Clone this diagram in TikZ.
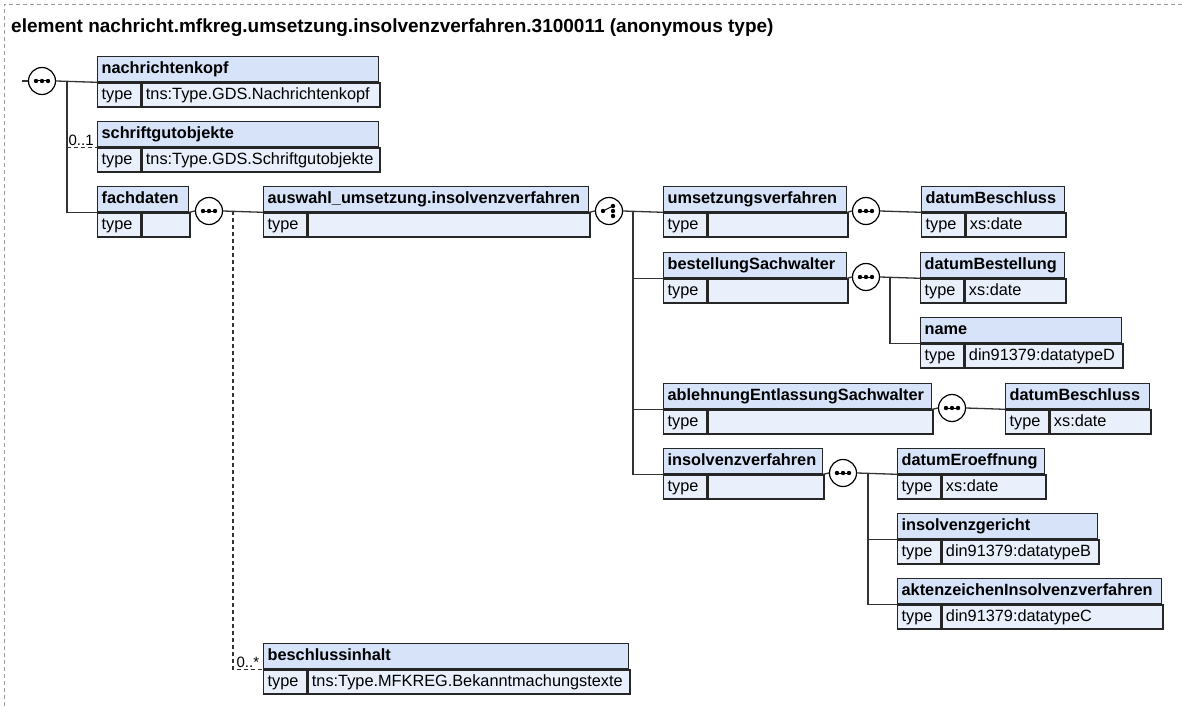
\documentclass[tikz,border=0pt]{standalone}
\usepackage{fontspec}
\setmainfont{Liberation Sans}
\usetikzlibrary{positioning,calc}
\definecolor{HeadBlue}{HTML}{D6E3F8}
\definecolor{RowBlue}{HTML}{E9F0FB}
\definecolor{LineGray}{HTML}{333333}
\definecolor{FrameGray}{HTML}{9A9A9A}
\tikzset{
  head/.style={draw=black!85, fill=HeadBlue, line width=1.3pt, anchor=north west, minimum height=25pt,
    inner xsep=4pt, inner ysep=0pt, text height=11.7pt, text depth=3.4pt, align=left,
    font=\fontsize{16.3}{19}\selectfont\bfseries},
  cell/.style={draw=black!85, fill=RowBlue, line width=1.3pt, anchor=north west, minimum height=24pt,
    inner xsep=4pt, inner ysep=0pt, text height=11.7pt, text depth=3.4pt, align=left,
    font=\fontsize{16.3}{19}\selectfont},
  compositor/.style={circle, draw=black, fill=white, line width=1.2pt, minimum size=27pt, inner sep=0pt},
  link/.style={draw=LineGray, line width=1.3pt},
  optlink/.style={link, dash pattern=on 4pt off 3pt},
  occurs/.style={font=\fontsize{15}{17}\selectfont, inner sep=1pt, anchor=south west, text=black},
  frame/.style={draw=FrameGray, line width=0.8pt, dash pattern=on 4pt off 3pt},
}
% element box: name, left, top, right, title, type
\newcommand{\elem}[6]{%
  \pgfmathsetmacro{\hw}{#4-#2-8}%
  \pgfmathsetmacro{\vw}{#4-#2-43-8}%
  \node[head, text width=\hw pt] (#1) at (#2,#3) {#5};%
  \node[cell, text width=35pt] (#1-k) at (#1.south west) {type};%
  \node[cell, text width=\vw pt] (#1-t) at (#1-k.north east) {#6};%
}
% sequence symbol
\newcommand{\seqsym}[3]{%
  \node[compositor] (#1) at (#2,#3) {};%
  \draw[line width=1pt] ([xshift=-6pt]#1.center) -- ([xshift=6pt]#1.center);%
  \foreach \dx in {-6,0,6} {\fill ([xshift=\dx pt]#1.center) circle (2.2pt);}%
}
% choice symbol
\newcommand{\choicesym}[3]{%
  \node[compositor] (#1) at (#2,#3) {};%
  \draw[line width=1pt] ([xshift=-6pt]#1.center) -- ([shift={(4pt,5pt)}]#1.center);%
  \fill ([xshift=-6pt]#1.center) circle (2.2pt);%
  \foreach \dy in {-5,0,5} {\fill ([shift={(4pt,\dy pt)}]#1.center) circle (2.2pt);}%
}

\begin{document}
\begin{tikzpicture}[x=1pt, y=-1pt]

  \useasboundingbox (0,0) rectangle (1183,706);
  \draw[frame] (4,706) -- (4,4) -- (1183,4);

  \node[anchor=base west, inner sep=0pt, font=\fontsize{19}{22}\selectfont\bfseries] (title) at (11,33)
    {element nachricht.mfkreg.umsetzung.insolvenzverfahren.3100011 (anonymous type)};

  % --- boxes ---------------------------------------------------------------
  \elem{nachrichtenkopf}{97}{56}{378}{nachrichtenkopf}{tns:Type.GDS.Nachrichtenkopf}
  \elem{schriftgut}{97}{121}{378}{schriftgutobjekte}{tns:Type.GDS.Schriftgutobjekte}
  \elem{fachdaten}{97}{186}{188}{fachdaten}{}
  \elem{auswahl}{263}{186}{588}{auswahl\_umsetzung.insolvenzverfahren}{}
  \elem{umsetzung}{663}{186}{846}{umsetzungsverfahren}{}
  \elem{beschlussA}{921}{186}{1064}{datumBeschluss}{xs:date}
  \elem{bestellung}{663}{252}{846}{bestellungSachwalter}{}
  \elem{bestellDatum}{920}{252}{1064}{datumBestellung}{xs:date}
  \elem{nameD}{920}{317}{1121}{name}{din91379:datatypeD}
  \elem{ablehnung}{663}{383}{931}{ablehnungEntlassungSachwalter}{}
  \elem{beschlussB}{1005}{383}{1149}{datumBeschluss}{xs:date}
  \elem{insolvenz}{663}{448}{822}{insolvenzverfahren}{}
  \elem{eroeffnung}{897}{448}{1044}{datumEroeffnung}{xs:date}
  \elem{gericht}{897}{513}{1097}{insolvenzgericht}{din91379:datatypeB}
  \elem{aktenzeichen}{897}{578}{1161}{aktenzeichenInsolvenzverfahren}{din91379:datatypeC}
  \elem{beschluss}{263}{643}{628}{beschlussinhalt}{tns:Type.MFKREG.Bekanntmachungstexte}

  % --- compositors ---------------------------------------------------------
  \seqsym{mainseq}{42}{81}
  \seqsym{fachseq}{209}{211}
  \choicesym{choice}{609}{211}
  \seqsym{umsetzseq}{866}{211}
  \seqsym{bestellseq}{866}{277}
  \seqsym{ablehnseq}{952}{408}
  \seqsym{insolvseq}{843}{473}

  % --- connectors ----------------------------------------------------------
  \coordinate (start) at (22,81);
  \coordinate (jmain) at (67,81);
  \draw[link] (start) -- (mainseq.west);
  \draw[link] (mainseq.east) -- (nachrichtenkopf.south west);
  \draw[link] (jmain) |- (fachdaten.south west);
  \draw[optlink] (jmain |- schriftgut.south west) -- (schriftgut.south west)
    node[occurs, pos=0] {0..1};

  \coordinate (jfach) at (233,211);
  \draw[link] (fachdaten.south east) -- (fachseq.west);
  \draw[link] (fachseq.east) -- (auswahl.south west);
  \draw[optlink] (jfach) |- (beschluss.south west)
    node[occurs, pos=0.5, xshift=2pt] {0..*};

  \coordinate (jchoice) at (633,211);
  \draw[link] (auswahl.south east) -- (choice.west);
  \draw[link] (choice.east) -- (umsetzung.south west);
  \draw[link] (jchoice) |- (bestellung.south west);
  \draw[link] (jchoice) |- (ablehnung.south west);
  \draw[link] (jchoice) |- (insolvenz.south west);

  \draw[link] (umsetzung.south east) -- (umsetzseq.west);
  \draw[link] (umsetzseq.east) -- (beschlussA.south west);

  \coordinate (jbestell) at (890,277);
  \draw[link] (bestellung.south east) -- (bestellseq.west);
  \draw[link] (bestellseq.east) -- (bestellDatum.south west);
  \draw[link] (jbestell) |- (nameD.south west);

  \draw[link] (ablehnung.south east) -- (ablehnseq.west);
  \draw[link] (ablehnseq.east) -- (beschlussB.south west);

  \coordinate (jinsolv) at (868,473);
  \draw[link] (insolvenz.south east) -- (insolvseq.west);
  \draw[link] (insolvseq.east) -- (eroeffnung.south west);
  \draw[link] (jinsolv) |- (gericht.south west);
  \draw[link] (jinsolv) |- (aktenzeichen.south west);

\end{tikzpicture}
\end{document}
